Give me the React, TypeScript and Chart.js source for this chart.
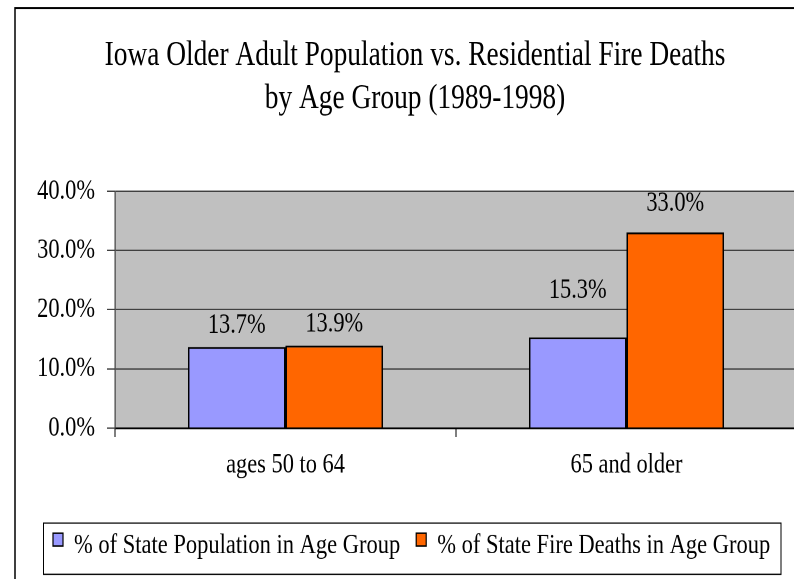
import React, { useEffect, useRef } from 'react';
import { Chart, registerables } from 'chart.js';

Chart.register(...registerables);

// ---- data ----
const categories = ['ages 50 to 64', '65 and older'];
const seriesNames = ['% of State Population in Age Group', '% of State Fire Deaths in Age Group'];
const populationPct = [13.7, 15.3];
const fireDeathPct = [13.9, 33.0];
const yTickValues = [0, 10, 20, 30, 40];
const titleLines = ['Iowa Older Adult Population vs. Residential Fire Deaths', 'by Age Group (1989-1998)'];

// ---- styling / layout ----
const K = 1.27; // vertical stretch of the original picture
const W = 830;
const H = 470;
const FONT = "'Liberation Serif', 'Times New Roman', serif";
const COLORS = ['#9999FF', '#FF6600'];
const LABEL_LIFT = [
  [11, 31],
  [11, 17],
];

const decor = {
  id: 'decor',
  beforeDraw(chart: any) {
    const { ctx, chartArea: a } = chart;
    ctx.save();
    ctx.fillStyle = '#ffffff';
    ctx.fillRect(0, 0, W, H);
    ctx.strokeStyle = '#000000';
    ctx.lineWidth = 1.5;
    ctx.strokeRect(15, 6.3, 800, 458);
    ctx.fillStyle = '#C0C0C0';
    ctx.fillRect(a.left, a.top, a.right - a.left, a.bottom - a.top);
    ctx.fillStyle = '#000';
    ctx.font = `27.4px ${FONT}`;
    ctx.textAlign = 'center';
    ctx.textBaseline = 'alphabetic';
    ctx.fillText(titleLines[0], 415, 51.2);
    ctx.fillText(titleLines[1], 415, 85.2);
    ctx.restore();
  },
  afterDatasetsDraw(chart: any) {
    const { ctx } = chart;
    ctx.save();
    ctx.fillStyle = '#000';
    ctx.font = `22.4px ${FONT}`;
    ctx.textAlign = 'center';
    ctx.textBaseline = 'alphabetic';
    chart.data.datasets.forEach((ds: any, di: number) => {
      const meta = chart.getDatasetMeta(di);
      meta.data.forEach((bar: any, i: number) => {
        const v = ds.data[i];
        ctx.fillText(`${v.toFixed(1)}%`, bar.x, bar.y - LABEL_LIFT[di][i]);
      });
    });
    ctx.restore();
  },
  afterDraw(chart: any) {
    const { ctx } = chart;
    ctx.save();
    ctx.strokeStyle = '#000';
    ctx.lineWidth = 1;
    ctx.strokeRect(43.5, 411.8, 737.5, 40.3);
    ctx.font = `22.5px ${FONT}`;
    ctx.textAlign = 'left';
    ctx.textBaseline = 'alphabetic';
    let x = 53;
    seriesNames.forEach((name, i) => {
      ctx.fillStyle = COLORS[i];
      ctx.fillRect(x, 419.8, 10, 10);
      ctx.strokeStyle = '#000';
      ctx.lineWidth = 1.2;
      ctx.strokeRect(x, 419.8, 10, 10);
      ctx.fillStyle = '#000';
      ctx.fillText(name, x + 21, 435.4);
      x = x + 21 + ctx.measureText(name).width + 16;
    });
    ctx.restore();
  },
};

export default function App() {
  const ref = useRef<HTMLCanvasElement | null>(null);

  useEffect(() => {
    if (!ref.current) return;
    const chart = new Chart(ref.current, {
      type: 'bar',
      data: {
        labels: categories,
        datasets: [
          {
            label: seriesNames[0],
            data: populationPct,
            backgroundColor: COLORS[0],
            borderColor: '#000',
            borderWidth: 1.5,
            categoryPercentage: 0.572,
            barPercentage: 1.0,
          },
          {
            label: seriesNames[1],
            data: fireDeathPct,
            backgroundColor: COLORS[1],
            borderColor: '#000',
            borderWidth: 1.5,
            categoryPercentage: 0.572,
            barPercentage: 1.0,
          },
        ],
      },
      options: {
        animation: false,
        responsive: false,
        maintainAspectRatio: false,
        devicePixelRatio: 2,
        layout: { padding: { left: 15, top: 150.4, right: 33, bottom: H - 337 - 60 } },
        plugins: {
          legend: { display: false },
          title: { display: false },
          tooltip: { enabled: false },
        },
        scales: {
          x: {
            grid: {
              drawOnChartArea: false,
              drawTicks: true,
              tickLength: 7,
              color: '#000',
              lineWidth: 1,
              offset: true,
            },
            border: { color: '#000', width: 1.5 },
            ticks: {
              color: '#000',
              font: { family: FONT, size: 22.4 },
              padding: 8.5,
              maxRotation: 0,
            },
            afterFit: (s: any) => {
              s.height = 60;
            },
          },
          y: {
            min: 0,
            max: 40,
            afterBuildTicks: (s: any) => {
              s.ticks = yTickValues.map((v) => ({ value: v }));
            },
            grid: {
              color: '#404040',
              lineWidth: 1,
              tickLength: 8,
            },
            border: { color: '#404040', width: 1.2 },
            ticks: {
              color: '#000',
              font: { family: FONT, size: 22.4 },
              padding: 12,
              callback: (v: any) => `${Number(v).toFixed(1)}%`,
            },
            afterFit: (s: any) => {
              s.width = 100;
            },
          },
        },
      },
      plugins: [decor],
    });
    return () => chart.destroy();
  }, []);

  return (
    <div
      style={{
        position: 'absolute',
        left: 0,
        top: 0,
        width: 794,
        height: 579,
        overflow: 'hidden',
        background: '#fff',
      }}
    >
      <canvas
        ref={ref}
        width={W}
        height={H}
        style={{ display: 'block', width: `${W}px`, height: `${H * K}px` }}
      />
    </div>
  );
}
